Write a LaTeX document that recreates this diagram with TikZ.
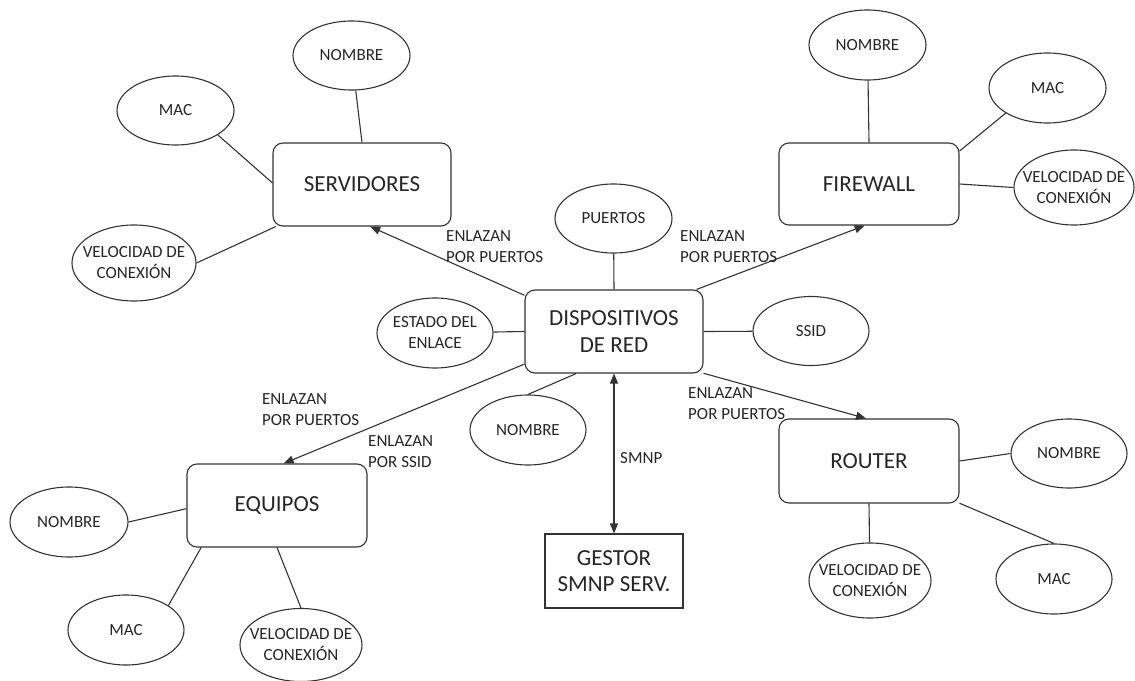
\documentclass[tikz,border=0pt]{standalone}
\usepackage{fontspec}
\setmainfont{Carlito}
\usetikzlibrary{shapes.geometric,arrows.meta}

\begin{document}
\begin{tikzpicture}[x=1pt,y=-1pt,
  every node/.style={text=black!85},
  ink/.style={draw=black!80, line width=1.1pt},
  attrnode/.style={ink, ellipse, inner xsep=-30pt, inner ysep=0pt, align=center,
    font=\fontsize{17}{21}\selectfont},
  entitybox/.style={ink, rectangle, rounded corners=10pt, inner sep=0pt, align=center,
    font=\fontsize{23}{27.5}\selectfont},
  mgrbox/.style={ink, rectangle, inner sep=0pt, align=center,
    font=\fontsize{23}{26.5}\selectfont},
  edgetag/.style={inner sep=0pt, anchor=west, align=left,
    font=\fontsize{17}{21}\selectfont},
  plainlink/.style={ink},
  arrowlink/.style={ink, -{Triangle[length=10pt,width=8pt]}},
  duallink/.style={ink, {Triangle[length=10pt,width=8pt]}-{Triangle[length=10pt,width=8pt]}},
]
\path[fill=white] (0,0) rectangle (1135,680);
\useasboundingbox (0,0) rectangle (1135,680);

% main entities
\node[entitybox, minimum width=178pt, minimum height=83pt] (serv) at (362,184.5) {SERVIDORES};
\node[entitybox, minimum width=180pt, minimum height=82pt] (fw)   at (869,184)   {FIREWALL};
\node[entitybox, minimum width=178pt, minimum height=83pt] (disp) at (614,331.5) {DISPOSITIVOS\\DE RED};
\node[entitybox, minimum width=180pt, minimum height=84pt] (rt)   at (869,461)   {ROUTER};
\node[entitybox, minimum width=180pt, minimum height=83pt] (eq)   at (277,505.5) {EQUIPOS};
\node[mgrbox,    minimum width=138pt, minimum height=74pt] (ge)   at (614,571)   {GESTOR\\SMNP SERV.};

% attributes of SERVIDORES
\node[attrnode, minimum width=117pt, minimum height=69pt] (n1) at (351.5,55.5) {NOMBRE};
\node[attrnode, minimum width=117pt, minimum height=69pt] (m1) at (175.5,110.5) {MAC};
\node[attrnode, minimum width=124pt, minimum height=76pt] (v1) at (134,263) {VELOCIDAD DE\\CONEXIÓN};

% attributes of FIREWALL
\node[attrnode, minimum width=117pt, minimum height=70pt] (n2) at (867.5,45) {NOMBRE};
\node[attrnode, minimum width=117pt, minimum height=70pt] (m2) at (1047.5,88) {MAC};
\node[attrnode, minimum width=120pt, minimum height=75pt] (v2) at (1074,187.5) {VELOCIDAD DE\\CONEXIÓN};

% attributes of DISPOSITIVOS DE RED
\node[attrnode, minimum width=117pt, minimum height=69pt] (pu) at (613.5,218.5) {PUERTOS};
\node[attrnode, minimum width=116pt, minimum height=70pt] (es) at (435,333) {ESTADO DEL\\ENLACE};
\node[attrnode, minimum width=116pt, minimum height=69pt] (ss) at (811,331) {SSID};
\node[attrnode, minimum width=116pt, minimum height=70pt] (nc) at (528,430) {NOMBRE};

% attributes of ROUTER
\node[attrnode, minimum width=116pt, minimum height=69pt] (n3) at (1069,453.5) {NOMBRE};
\node[attrnode, minimum width=116pt, minimum height=70pt] (m3) at (1054,579) {MAC};
\node[attrnode, minimum width=122pt, minimum height=75pt] (v3) at (870,580.5) {VELOCIDAD DE\\CONEXIÓN};

% attributes of EQUIPOS
\node[attrnode, minimum width=118pt, minimum height=70pt] (n4) at (69,522) {NOMBRE};
\node[attrnode, minimum width=116pt, minimum height=70pt] (m4) at (126,630) {MAC};
\node[attrnode, minimum width=122pt, minimum height=73pt] (v4) at (301,645) {VELOCIDAD DE\\CONEXIÓN};

% connector labels
\node[edgetag] (t1) at (446,247) {ENLAZAN\\POR PUERTOS};
\node[edgetag] (t2) at (680,247) {ENLAZAN\\POR PUERTOS};
\node[edgetag] (t3) at (688,404) {ENLAZAN\\POR PUERTOS};
\node[edgetag] (t4) at (262,410) {ENLAZAN\\POR PUERTOS};
\node[edgetag] (t5) at (368,452) {ENLAZAN\\POR SSID};
\node[edgetag] (t6) at (620,458) {SMNP};

% SERVIDORES
\draw[plainlink] (n1) -- (serv.north);
\draw[plainlink] (m1.-30.6) -- (serv.179);
\draw[plainlink] (v1.east) -- (serv.-154);
\draw[arrowlink] (disp.158.8) -- (serv.-79);

% FIREWALL
\draw[plainlink] (n2) -- (fw.north);
\draw[plainlink] (m2.-149.5) -- (fw.20);
\draw[plainlink] (v2.west) -- (fw.east);
\draw[arrowlink] (disp.27.7) -- (fw.-96.5);

% DISPOSITIVOS DE RED
\draw[plainlink] (pu) -- (disp.north);
\draw[plainlink] (es) -- (disp.west);
\draw[plainlink] (ss) -- (disp.east);
\draw[plainlink] (nc.north) -- (disp.-132.5);
\draw[duallink] (disp.south) -- (ge.north);

% ROUTER
\draw[arrowlink] (disp.-25.8) -- (rt.94);
\draw[plainlink] (n3.west) -- (rt.east);
\draw[plainlink] (m3.north) -- (rt.-25.8);
\draw[plainlink] (v3) -- (rt.south);

% EQUIPOS
\draw[arrowlink] (disp.-160.5) -- (eq.81.8);
\draw[plainlink] (n4.east) -- (eq.-178.4);
\draw[plainlink] (m4.30.8) -- (eq.-151);
\draw[plainlink] (v4.north) -- (eq.south);
\end{tikzpicture}
\end{document}
